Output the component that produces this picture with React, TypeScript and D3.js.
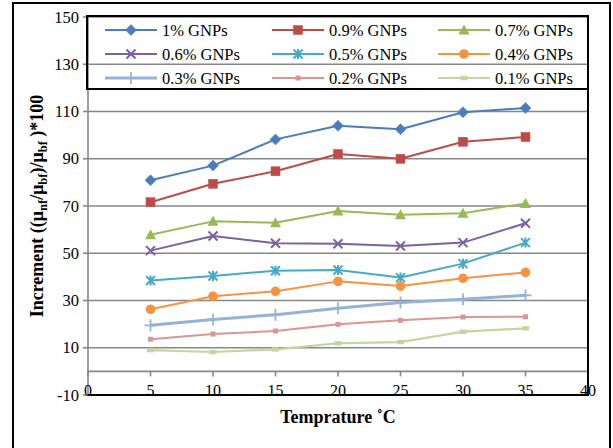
import React from "react";
import * as d3 from "d3";

const temps = [5, 10, 15, 20, 25, 30, 35];
const seriesNames = ["1% GNPs", "0.9% GNPs", "0.7% GNPs", "0.6% GNPs", "0.5% GNPs", "0.4% GNPs", "0.3% GNPs", "0.2% GNPs", "0.1% GNPs"];
const s1 = [80.9, 87.1, 98.2, 104.0, 102.5, 109.7, 111.5];
const s09 = [71.6, 79.4, 84.7, 92.0, 90.0, 97.2, 99.2];
const s07 = [57.8, 63.5, 62.9, 67.9, 66.3, 66.9, 71.1];
const s06 = [51.1, 57.3, 54.2, 54.0, 53.1, 54.5, 62.7];
const s05 = [38.5, 40.4, 42.6, 42.9, 39.7, 45.6, 54.5];
const s04 = [26.3, 31.8, 33.9, 38.1, 36.1, 39.4, 41.9];
const s03 = [19.5, 22.0, 24.0, 26.7, 29.2, 30.5, 32.2];
const s02 = [13.6, 15.8, 17.1, 19.9, 21.6, 23.0, 23.1];
const s01 = [9.0, 8.2, 9.3, 11.9, 12.4, 16.8, 18.2];
const seriesValues = [s1, s09, s07, s06, s05, s04, s03, s02, s01];
const xTicks = [0, 5, 10, 15, 20, 25, 30, 35, 40];
const yTicks = [-10, 10, 30, 50, 70, 90, 110, 130, 150];

const colors = ["#4A7EBB", "#BE4B48", "#98B954", "#7D60A0", "#46AAC5", "#F69240", "#95B3D7", "#D99694", "#C3D69B"];
const markerTypes = ["diamond", "square", "triangle", "x", "star", "circle", "plus", "smallsquare", "dash"];
const lineWidths = [2, 2, 2, 2, 2, 2, 3, 2, 2.2];

const FONT = "'Liberation Serif', 'Times New Roman', serif";

function Marker({ type, x, y, color }: { type: string; x: number; y: number; color: string }) {
  switch (type) {
    case "diamond":
      return <path d={`M${x},${y - 5.5}L${x + 5.5},${y}L${x},${y + 5.5}L${x - 5.5},${y}Z`} fill={color} stroke={color} strokeWidth={0.5} />;
    case "square":
      return <rect x={x - 4.5} y={y - 4.5} width={9} height={9} fill={color} stroke={color} strokeWidth={0.5} />;
    case "triangle":
      return <path d={`M${x},${y - 5.5}L${x + 5.5},${y + 4.5}L${x - 5.5},${y + 4.5}Z`} fill={color} />;
    case "x":
      return <path d={`M${x - 4.5},${y - 4.5}L${x + 4.5},${y + 4.5}M${x - 4.5},${y + 4.5}L${x + 4.5},${y - 4.5}`} stroke={color} strokeWidth={2} fill="none" />;
    case "star":
      return <path d={`M${x - 4.5},${y - 4.5}L${x + 4.5},${y + 4.5}M${x - 4.5},${y + 4.5}L${x + 4.5},${y - 4.5}M${x},${y - 5}L${x},${y + 5}`} stroke={color} strokeWidth={2} fill="none" />;
    case "circle":
      return <circle cx={x} cy={y} r={4.8} fill={color} />;
    case "plus":
      return <path d={`M${x - 6},${y}L${x + 6},${y}M${x},${y - 6}L${x},${y + 6}`} stroke={color} strokeWidth={1.8} fill="none" />;
    case "smallsquare":
      return <rect x={x - 2.5} y={y - 2.5} width={5} height={5} fill={color} />;
    case "dash":
      return <rect x={x - 3.5} y={y - 2.2} width={7} height={4.4} fill={color} />;
  }
  return null;
}

export default function App() {
  const W = 613, H = 448;
  const x = d3.scaleLinear().domain([0, 40]).range([88, 588]);
  const y = d3.scaleLinear().domain([-10, 150]).range([395, 17]);
  const line = d3.line<number>().x((_, i) => x(temps[i])).y((d) => y(d));
  const gridVals = yTicks.filter((v) => v > -10);

  const legX = [105, 272, 438];
  const legY = [30, 54, 78];

  return (
    <svg width={W} height={H} style={{ position: "absolute", left: 0, top: 0 }} fontFamily={FONT}>
      <rect x={0} y={0} width={W} height={H} fill="white" />
      <rect x={13} y={3} width={597} height={470} fill="white" stroke="black" strokeWidth={2} />
      {gridVals.map((v) => (
        <line key={v} x1={x(0)} x2={x(40)} y1={y(v)} y2={y(v)} stroke="#878787" strokeWidth={1.6} />
      ))}
      <line x1={x(0)} x2={x(40)} y1={y(0)} y2={y(0)} stroke="#878787" strokeWidth={1.6} />
      {xTicks.map((t) => (
        <line key={"xt" + t} x1={x(t)} x2={x(t)} y1={y(0)} y2={y(0) + 5} stroke="#878787" strokeWidth={1.6} />
      ))}
      <line x1={x(0)} x2={x(0)} y1={y(150)} y2={y(-10)} stroke="#878787" strokeWidth={1.6} />
      {yTicks.map((t) => (
        <line key={"yt" + t} x1={x(0) - 5} x2={x(0)} y1={y(t)} y2={y(t)} stroke="#878787" strokeWidth={1.6} />
      ))}
      <line x1={x(0)} x2={x(40) + 1} y1={y(-10)} y2={y(-10)} stroke="black" strokeWidth={2} />
      <line x1={x(40)} x2={x(40)} y1={y(150)} y2={y(-10)} stroke="black" strokeWidth={2} />
      {yTicks.map((t) => (
        <text key={"yl" + t} x={79} y={y(t) + 5.5} textAnchor="end" fontSize={16.5} fill="#000">
          {t}
        </text>
      ))}
      {xTicks.map((t) => (
        <text key={"xl" + t} x={x(t)} y={y(-10) + 1} textAnchor="middle" fontSize={16} fill="#000">
          {t}
        </text>
      ))}
      {seriesValues.map((vals, si) => (
        <g key={"s" + si}>
          <path d={line(vals) || ""} fill="none" stroke={colors[si]} strokeWidth={lineWidths[si]} strokeLinejoin="round" />
          {vals.map((v, i) => (
            <Marker key={i} type={markerTypes[si]} x={x(temps[i])} y={y(v)} color={colors[si]} />
          ))}
        </g>
      ))}
      <rect x={87} y={16} width={501} height={73} fill="none" stroke="black" strokeWidth={2} />
      {seriesNames.map((name, si) => {
        const cx = legX[si % 3];
        const cy = legY[Math.floor(si / 3)];
        return (
          <g key={"lg" + si}>
            <line x1={cx} x2={cx + 52} y1={cy} y2={cy} stroke={colors[si]} strokeWidth={lineWidths[si]} />
            <Marker type={markerTypes[si]} x={cx + 26} y={cy} color={colors[si]} />
            <text x={cx + 57} y={cy + 5.5} fontSize={16.5} fill="#000">
              {name}
            </text>
          </g>
        );
      })}
      <text x={x(20)} y={423} textAnchor="middle" fontSize={18} fontWeight="bold" fill="#000">
        Temprature ˚C
      </text>
      <text transform={`translate(43,${(y(150) + y(-10)) / 2}) rotate(-90)`} textAnchor="middle" fontSize={18} fontWeight="bold" fill="#000">
        <tspan>Increment ((μ</tspan>
        <tspan fontSize={12.5} dy={4}>nf</tspan>
        <tspan dy={-4}>/μ</tspan>
        <tspan fontSize={12.5} dy={4}>bf</tspan>
        <tspan dy={-4}>)/μ</tspan>
        <tspan fontSize={12.5} dy={4}>bf</tspan>
        <tspan dy={-4}> )*100</tspan>
      </text>
    </svg>
  );
}
